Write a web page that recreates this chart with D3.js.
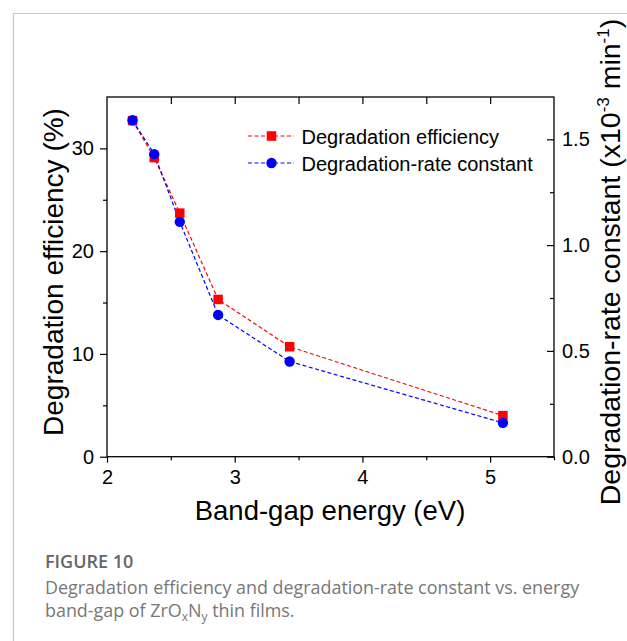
<!DOCTYPE html>
<html>
<head>
<meta charset="utf-8">
<script src="https://cdn.jsdelivr.net/npm/d3@7"></script>
<style>
  html, body { margin: 0; padding: 0; background: #fff; }
  svg { display: block; }
</style>
</head>
<body>
<script>
// Band-gap energy (eV) of each ZrOxNy film
const bandGap = [2.2, 2.37, 2.57, 2.87, 3.43, 5.1];
// Degradation efficiency (%)
const efficiency = [32.7, 29.1, 23.7, 15.3, 10.7, 4.0];
// Degradation-rate constant (x10^-3 min^-1)
const rateConst = [1.59, 1.43, 1.11, 0.67, 0.45, 0.16];

const xMajor = [2, 3, 4, 5];
const xMinor = [2.5, 3.5, 4.5, 5.5];
const xTop = [2.5, 3, 3.5, 4, 4.5, 5];
const yLeftMajor = [0, 10, 20, 30];
const yLeftMinor = [5, 15, 25];
const yRightMajor = [0, 0.5, 1.0, 1.5];
const yRightMinor = [0.25, 0.75, 1.25];

const seriesNames = ["Degradation efficiency", "Degradation-rate constant"];

const W = 627, H = 641;
const plot = { left: 107, right: 554, top: 97, bottom: 456.7 };
const RED = "#ff0000", BLUE = "#0000ff";
const FONT = "'Liberation Sans', Arial, sans-serif";

const svg = d3.select("body").append("svg")
  .attr("width", W).attr("height", H)
  .attr("viewBox", `0 0 ${W} ${H}`);

// card outline (top and left edges)
svg.append("path")
  .attr("d", `M13.5,${H} V13.5 H${W}`)
  .attr("fill", "none").attr("stroke", "#c6c6c6").attr("stroke-width", 1.2);

const x = d3.scaleLinear().domain([2, 5.5]).range([plot.left, plot.right]);
const yL = d3.scaleLinear().domain([0, 35]).range([plot.bottom, plot.top]);
const yR = d3.scaleLinear().domain([0, 1.7]).range([plot.bottom, plot.top]);

function styleAxis(g) {
  g.select(".domain").remove();
  g.selectAll("line").attr("stroke", "#000").attr("stroke-width", 1.2);
  g.selectAll("text").attr("fill", "#000").attr("font-family", FONT).attr("font-size", 20);
}

// bottom axis
svg.append("g").attr("transform", `translate(0,${plot.bottom})`)
  .call(d3.axisBottom(x).tickValues(xMajor).tickFormat(d3.format("d")).tickSizeInner(6).tickSizeOuter(0).tickPadding(7))
  .call(styleAxis);
svg.append("g").attr("transform", `translate(0,${plot.bottom})`)
  .call(d3.axisBottom(x).tickValues(xMinor).tickFormat("").tickSizeInner(3.5).tickSizeOuter(0))
  .call(styleAxis);

// top axis, ticks pointing inward
svg.append("g").attr("transform", `translate(0,${plot.top})`)
  .call(d3.axisTop(x).tickValues(xTop).tickFormat("").tickSizeInner(-7).tickSizeOuter(0))
  .call(styleAxis);

// left axis
svg.append("g").attr("transform", `translate(${plot.left},0)`)
  .call(d3.axisLeft(yL).tickValues(yLeftMajor).tickFormat(d3.format("d")).tickSizeInner(7).tickSizeOuter(0).tickPadding(6))
  .call(styleAxis);
svg.append("g").attr("transform", `translate(${plot.left},0)`)
  .call(d3.axisLeft(yL).tickValues(yLeftMinor).tickFormat("").tickSizeInner(4).tickSizeOuter(0))
  .call(styleAxis);

// right axis, ticks pointing inward
svg.append("g").attr("transform", `translate(${plot.right},0)`)
  .call(d3.axisRight(yR).tickValues(yRightMajor).tickFormat(d3.format(".1f")).tickSizeInner(-7).tickSizeOuter(0).tickPadding(8))
  .call(styleAxis);
svg.append("g").attr("transform", `translate(${plot.right},0)`)
  .call(d3.axisRight(yR).tickValues(yRightMinor).tickFormat("").tickSizeInner(-4).tickSizeOuter(0))
  .call(styleAxis);

// plot frame
svg.append("rect")
  .attr("x", plot.left).attr("y", plot.top)
  .attr("width", plot.right - plot.left).attr("height", plot.bottom - plot.top)
  .attr("fill", "none").attr("stroke", "#000").attr("stroke-width", 1.3);

// axis titles
svg.append("text")
  .attr("x", (plot.left + plot.right) / 2 - 0.5).attr("y", 520)
  .attr("text-anchor", "middle").attr("font-family", FONT).attr("font-size", 27.5)
  .text("Band-gap energy (eV)");

svg.append("text")
  .attr("transform", `translate(63,272) rotate(-90)`)
  .attr("text-anchor", "middle").attr("font-family", FONT).attr("font-size", 28)
  .text("Degradation efficiency (%)");

const rt = svg.append("text")
  .attr("transform", `translate(620,262) rotate(-90)`)
  .attr("text-anchor", "middle").attr("font-family", FONT).attr("font-size", 28.5);
rt.append("tspan").text("Degradation-rate constant (x10");
rt.append("tspan").attr("dy", -11).attr("font-size", 17).text("-3");
rt.append("tspan").attr("dy", 11).text(" min");
rt.append("tspan").attr("dy", -11).attr("font-size", 17).text("-1");
rt.append("tspan").attr("dy", 11).text(")");

// data series
const effPts = bandGap.map((b, i) => [b, efficiency[i]]);
const ratePts = bandGap.map((b, i) => [b, rateConst[i]]);

const effLine = d3.line().x(d => x(d[0])).y(d => yL(d[1]));
const rateLine = d3.line().x(d => x(d[0])).y(d => yR(d[1]));

svg.append("path").datum(effPts).attr("d", effLine)
  .attr("fill", "none").attr("stroke", RED).attr("stroke-width", 1.2).attr("stroke-dasharray", "4,2.5");
svg.append("path").datum(ratePts).attr("d", rateLine)
  .attr("fill", "none").attr("stroke", BLUE).attr("stroke-width", 1.2).attr("stroke-dasharray", "4,2.5");

const SQ = 9.5, R = 5.2;
svg.append("g").selectAll("rect").data(effPts).join("rect")
  .attr("x", d => x(d[0]) - SQ / 2).attr("y", d => yL(d[1]) - SQ / 2)
  .attr("width", SQ).attr("height", SQ).attr("fill", RED);
svg.append("g").selectAll("circle").data(ratePts).join("circle")
  .attr("cx", d => x(d[0])).attr("cy", d => yR(d[1])).attr("r", R).attr("fill", BLUE);

// legend
const legend = svg.append("g");
const legendRows = [
  { name: seriesNames[0], color: RED, shape: "square", y: 136 },
  { name: seriesNames[1], color: BLUE, shape: "circle", y: 163 }
];
legendRows.forEach(r => {
  legend.append("line")
    .attr("x1", 248).attr("x2", 294).attr("y1", r.y).attr("y2", r.y)
    .attr("stroke", r.color).attr("stroke-width", 1.2).attr("stroke-dasharray", "4,2.5");
  if (r.shape === "square") {
    legend.append("rect").attr("x", 271.5 - SQ / 2).attr("y", r.y - SQ / 2)
      .attr("width", SQ).attr("height", SQ).attr("fill", r.color);
  } else {
    legend.append("circle").attr("cx", 271.5).attr("cy", r.y).attr("r", R).attr("fill", r.color);
  }
  legend.append("text").attr("x", 301.5).attr("y", r.y + 7.5)
    .attr("font-family", FONT).attr("font-size", 20).text(r.name);
});

// caption
const CAP_FONT = "'Open Sans', 'Noto Sans', sans-serif";
svg.append("text").attr("x", 45).attr("y", 567.5)
  .attr("font-family", CAP_FONT).attr("font-size", 18).attr("font-weight", 600)
  .attr("fill", "#666").text("FIGURE 10");

svg.append("text").attr("x", 45).attr("y", 594)
  .attr("font-family", CAP_FONT).attr("font-size", 17.9).attr("fill", "#777")
  .text("Degradation efficiency and degradation-rate constant vs. energy");

const c2 = svg.append("text").attr("x", 45).attr("y", 616.5)
  .attr("font-family", CAP_FONT).attr("font-size", 17.9).attr("fill", "#777");
c2.append("tspan").text("band-gap of ZrO");
c2.append("tspan").attr("dy", 4).attr("font-size", 12).text("x");
c2.append("tspan").attr("dy", -4).text("N");
c2.append("tspan").attr("dy", 4).attr("font-size", 12).text("y");
c2.append("tspan").attr("dy", -4).text(" thin films.");
</script>
</body>
</html>
